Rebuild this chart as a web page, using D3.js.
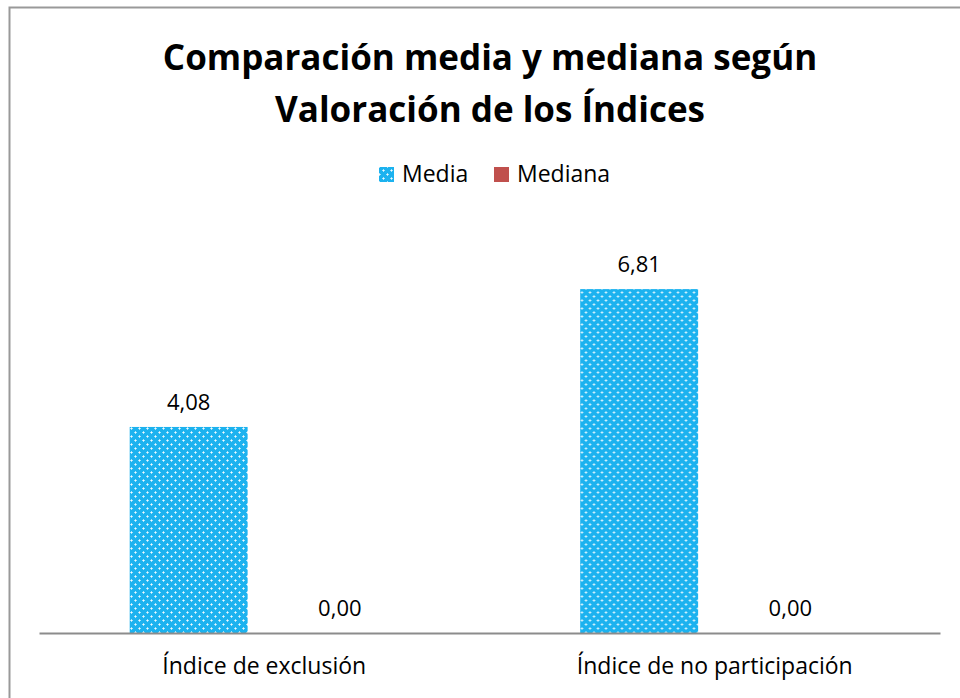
<!DOCTYPE html>
<html>
<head>
<meta charset="utf-8">
<script src="https://cdn.jsdelivr.net/npm/d3@7"></script>
<style>
  body { margin: 0; background: #fff; }
  text { font-family: "Open Sans", sans-serif; }
</style>
</head>
<body>
<script>
var categories = ["Índice de exclusión", "Índice de no participación"];
var seriesNames = ["Media", "Mediana"];
var media = [4.08, 6.81];
var mediana = [0.00, 0.00];

var W = 960, H = 698;
var margin = {top: 229, right: 20, bottom: 65, left: 39};

var svg = d3.select("body").append("svg")
  .attr("width", W).attr("height", H);

// pattern for Media: blue with light crosses
var defs = svg.append("defs");
var pat = defs.append("pattern")
  .attr("id", "dots")
  .attr("patternUnits", "userSpaceOnUse")
  .attr("width", 8).attr("height", 8);
pat.append("rect").attr("width", 8).attr("height", 8).attr("fill", "#1cb2ef");
[[0, 0], [4, 4]].forEach(function(c) {
  var cx = c[0], cy = c[1];
  [[0, 0], [1, 0], [-1, 0], [0, 1], [0, -1]].forEach(function(o) {
    pat.append("rect")
      .attr("x", (cx + o[0] + 8) % 8).attr("y", (cy + o[1] + 8) % 8)
      .attr("width", 1).attr("height", 1)
      .attr("fill", o[0] === 0 && o[1] === 0 ? "#f0faff" : "#a6e2f9");
  });
});

var colors = ["url(#dots)", "#c0504d"];

// chart border
svg.append("rect")
  .attr("x", 9.5).attr("y", 7.5)
  .attr("width", 960).attr("height", 700)
  .attr("fill", "none").attr("stroke", "#999").attr("stroke-width", 2);

var baseY = 633;

var x0 = d3.scaleBand().domain(categories).range([margin.left, 940]);
var x1 = d3.scaleBand().domain(seriesNames).range([0, x0.bandwidth()])
  .paddingInner(0.22).paddingOuter(0.6);
var y = d3.scaleLinear().domain([0, 8]).range([baseY, baseY - 8 * 50.5]);

var rows = categories.map(function(c, i) {
  return {cat: c, values: [media[i], mediana[i]]};
});

var groups = svg.append("g").selectAll("g")
  .data(rows).enter().append("g")
  .attr("transform", function(d) { return "translate(" + x0(d.cat) + ",0)"; });

groups.selectAll("rect")
  .data(function(d) { return d.values.map(function(v, j) { return {s: seriesNames[j], v: v, j: j}; }); })
  .enter().append("rect")
  .attr("x", function(d) { return x1(d.s); })
  .attr("width", x1.bandwidth())
  .attr("y", function(d) { return y(d.v); })
  .attr("height", function(d) { return baseY - y(d.v); })
  .attr("fill", function(d) { return colors[d.j]; });

groups.selectAll("text.val")
  .data(function(d) { return d.values.map(function(v, j) { return {s: seriesNames[j], v: v}; }); })
  .enter().append("text")
  .attr("class", "val")
  .attr("x", function(d) { return x1(d.s) + x1.bandwidth() / 2; })
  .attr("y", function(d) { return y(d.v) - 17; })
  .attr("text-anchor", "middle")
  .style("font-size", "22px")
  .text(function(d) { return d.v.toFixed(2).replace(".", ","); });

// x axis
var xAxis = svg.append("g")
  .attr("transform", "translate(0," + baseY + ")")
  .call(d3.axisBottom(x0).tickSize(0).tickPadding(25));
xAxis.select(".domain").attr("stroke", "#8c8c8c").attr("stroke-width", 2);
xAxis.selectAll("text").style("font-size", "23px").attr("fill", "#000")
  .style("font-family", "'Open Sans', sans-serif");

// title
var title = svg.append("text")
  .attr("text-anchor", "middle")
  .style("font-size", "35px").style("font-weight", "bold");
title.append("tspan").attr("x", 490).attr("y", 70).text("Comparación media y mediana según");
title.append("tspan").attr("x", 490).attr("y", 122).text("Valoración de los Índices");

// legend
var legend = svg.append("g").attr("transform", "translate(379,174)");
var lx = [0, 115];
seriesNames.forEach(function(s, i) {
  var g = legend.append("g").attr("transform", "translate(" + lx[i] + ",0)");
  g.append("rect").attr("x", 0).attr("y", -7).attr("width", 15).attr("height", 15)
    .attr("fill", colors[i]);
  g.append("text").attr("x", 23).attr("y", 8).style("font-size", "23px").text(s);
});
</script>
</body>
</html>
